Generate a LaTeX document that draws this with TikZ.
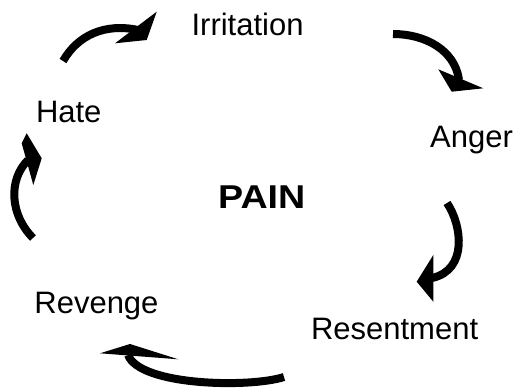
\documentclass[tikz,border=0pt]{standalone}
\usepackage{fontspec}
\setmainfont{Liberation Sans}
\begin{document}
\begin{tikzpicture}[x=1pt,y=-1pt,
  lbl/.style={inner sep=0pt,anchor=base west,font=\fontsize{31}{36}\selectfont},
  shaft/.style={line width=8pt,line cap=butt},
  head/.style={fill=black,draw=none}]
\useasboundingbox (0,0) rectangle (514,390);
% labels
\node[lbl] (irr) at (191.4,35.5) {Irritation};
\node[lbl] (ang) at (430,147.4) {Anger};
\node[lbl] (res) at (310.8,339.3) {Resentment};
\node[lbl] (rev) at (34.2,313.8) {Revenge};
\node[lbl] (hat) at (35.8,123) {Hate};
\node[lbl,font=\fontsize{33}{38}\selectfont\bfseries,xscale=1.14] (pain) at (218,209) {PAIN};
% arrow 1
\draw[shaft] (63,61) .. controls (78,35) and (105,23) .. (138,30);
\fill[head] (156.7,11.7) -- (146.7,40) -- (115,43.3) -- cycle;
% arrow 2
\draw[shaft] (393,34) .. controls (425,34) and (455,50) .. (459,80);
\fill[head] (438.3,69.3) -- (483.3,88.3) -- (451.7,91.7) -- cycle;
% arrow 3
\draw[shaft] (447,203) .. controls (462,225) and (468,270) .. (432,278);
\fill[head] (433.3,255) -- (416.7,281.7) -- (433.3,301.7) -- cycle;
% arrow 4
\draw[shaft] (284,377) .. controls (250,388) and (140,386) .. (128,355);
\fill[head] (100,353.3) -- (130,344) -- (178.3,359.3) -- cycle;
% arrow 5
\draw[shaft] (33,238) .. controls (10,215) and (8,180) .. (28,160);
\fill[head] (21.7,143.3) -- (26.7,133.3) -- (41.7,158.3) -- (33.3,185) -- cycle;
\end{tikzpicture}
\end{document}
